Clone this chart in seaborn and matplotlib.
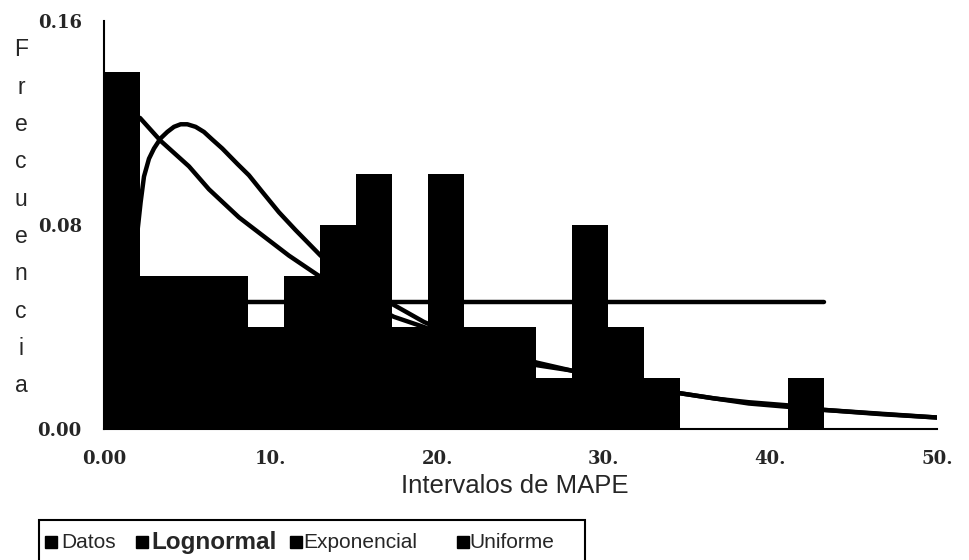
import matplotlib
matplotlib.use("Agg")
import matplotlib.pyplot as plt
from matplotlib.lines import Line2D
from matplotlib.patches import Rectangle
import seaborn as sns
import pandas as pd

sns.set_style("white")
plt.rcParams["font.family"] = ["Liberation Sans", "DejaVu Sans"]

# histogram of MAPE (relative frequency, 20 bins of width 2.16)
bin_width = 2.16
n_bins = 20
datos = [0.14, 0.06, 0.06, 0.06, 0.04, 0.06, 0.08, 0.10, 0.04, 0.10,
         0.04, 0.04, 0.02, 0.08, 0.04, 0.02, 0.00, 0.00, 0.00, 0.02]

# fitted curves
logn_x = [1.8, 2.2, 2.4, 2.7, 3.0, 3.4, 3.8, 4.2, 4.6, 5.0, 5.5, 6.0, 6.5, 7.1,
          8.0, 8.7, 9.5, 10.5, 11.5, 12.4, 13.0, 15.0, 17.3, 19.2, 22.0, 26.0,
          30.0, 34.6, 38.7, 43.2, 50.0]
logn_y = [0.065, 0.089, 0.099, 0.106, 0.110, 0.114, 0.1165, 0.1185, 0.1195, 0.1195,
          0.1185, 0.1165, 0.1135, 0.110, 0.104, 0.0995, 0.093, 0.085, 0.078, 0.072,
          0.068, 0.058, 0.049, 0.042, 0.034, 0.026, 0.020, 0.014, 0.010, 0.0075,
          0.0045]

expo_x = [2.16, 3.4, 5.1, 6.3, 8.1, 9.9, 11.1, 12.8, 15.0, 17.4, 19.2, 22.0,
          26.0, 28.0, 31.0, 34.6, 36.6, 38.7, 41.0, 43.2, 46.7, 50.0]
expo_y = [0.122, 0.113, 0.103, 0.094, 0.083, 0.074, 0.068, 0.0605, 0.052, 0.044,
          0.040, 0.033, 0.025, 0.023, 0.018, 0.014, 0.012, 0.0105, 0.0093, 0.0075,
          0.0058, 0.0045]

unif_x = [0.0, 43.2]
unif_y = [0.05, 0.05]

y_ticks = [0.0, 0.04, 0.08, 0.12, 0.16]
y_labels = ["0.00", "", "0.08", "", "0.16"]
x_ticks = [0, 10, 20, 30, 40, 50]
x_labels = ["0.00", "10.", "20.", "30.", "40.", "50."]
legend_labels = ["Datos", "Lognormal", "Exponencial", "Uniforme"]


def fx(px):
    return px / 970


def fy(py):
    return 1 - py / 560


hist_df = pd.DataFrame({"mape": [bin_width * (i + 0.5) for i in range(n_bins)],
                        "freq": datos})

fig = plt.figure(figsize=(9.7, 5.6), dpi=100)
ax = fig.add_axes([fx(104), fy(429), 833 / 970, 408 / 560])

sns.histplot(data=hist_df, x="mape", weights="freq", binwidth=bin_width,
             binrange=(0, bin_width * n_bins), stat="count",
             color="black", alpha=1, edgecolor="black", linewidth=0, ax=ax)
for xs, ys in [(logn_x, logn_y), (expo_x, expo_y), (unif_x, unif_y)]:
    sns.lineplot(x=xs, y=ys, color="black", linewidth=3.2, sort=False,
                 estimator=None, ax=ax, solid_capstyle="round")

ax.set_xlim(0, 50)
ax.set_ylim(0, 0.16)
ax.set_xlabel("")
ax.set_ylabel("")
sns.despine(ax=ax)
for s in ["left", "bottom"]:
    ax.spines[s].set_color("black")
    ax.spines[s].set_linewidth(1.5)

tick_font = dict(family="DejaVu Serif", weight="bold", size=13)
ax.set_yticks(y_ticks)
ax.set_yticklabels(y_labels, **tick_font)
ax.set_xticks(x_ticks)
ax.set_xticklabels(x_labels, **tick_font)
ax.tick_params(axis="y", direction="in", length=12, width=1.5, pad=16)
ax.tick_params(axis="x", direction="in", length=6, width=1.5, pad=15)
# tick marks sit on the black bars, so most show as white
for t, c in zip(ax.yaxis.get_major_ticks(), ["black", "white", "white", "white", "black"]):
    t.tick1line.set_color(c)
for t, c in zip(ax.xaxis.get_major_ticks(), ["black", "white", "white", "white", "black", "black"]):
    t.tick1line.set_color(c)

fig.text(fx(515), fy(486), "Intervalos de MAPE", fontsize=18.5,
         ha="center", va="center")

# vertical stacked y label
for i, ch in enumerate("Frecuencia"):
    fig.text(fx(21), fy(50 + i * 37.3), ch, fontsize=16.5,
             ha="center", va="center")

# legend box running off the bottom edge, entries laid out like the original
fig.add_artist(Rectangle((fx(39), fy(580)), (585 - 39) / 970, 60 / 560,
                         transform=fig.transFigure, fill=False,
                         edgecolor="black", linewidth=1.5))
entry_marker_px = [51, 142, 296, 463]
entry_text_px = [61, 151, 303, 469]
entry_size = [15, 17.5, 15, 15]
entry_weight = ["normal", "bold", "normal", "normal"]
for mx, tx, lab, sz, wt in zip(entry_marker_px, entry_text_px, legend_labels,
                               entry_size, entry_weight):
    fig.add_artist(Line2D([fx(mx)], [fy(542)], marker="s", color="black",
                          markersize=8.5, linestyle="", transform=fig.transFigure))
    fig.text(fx(tx), fy(542), lab, fontsize=sz, fontweight=wt,
             ha="left", va="center")

fig.savefig("out.png", dpi=100)
